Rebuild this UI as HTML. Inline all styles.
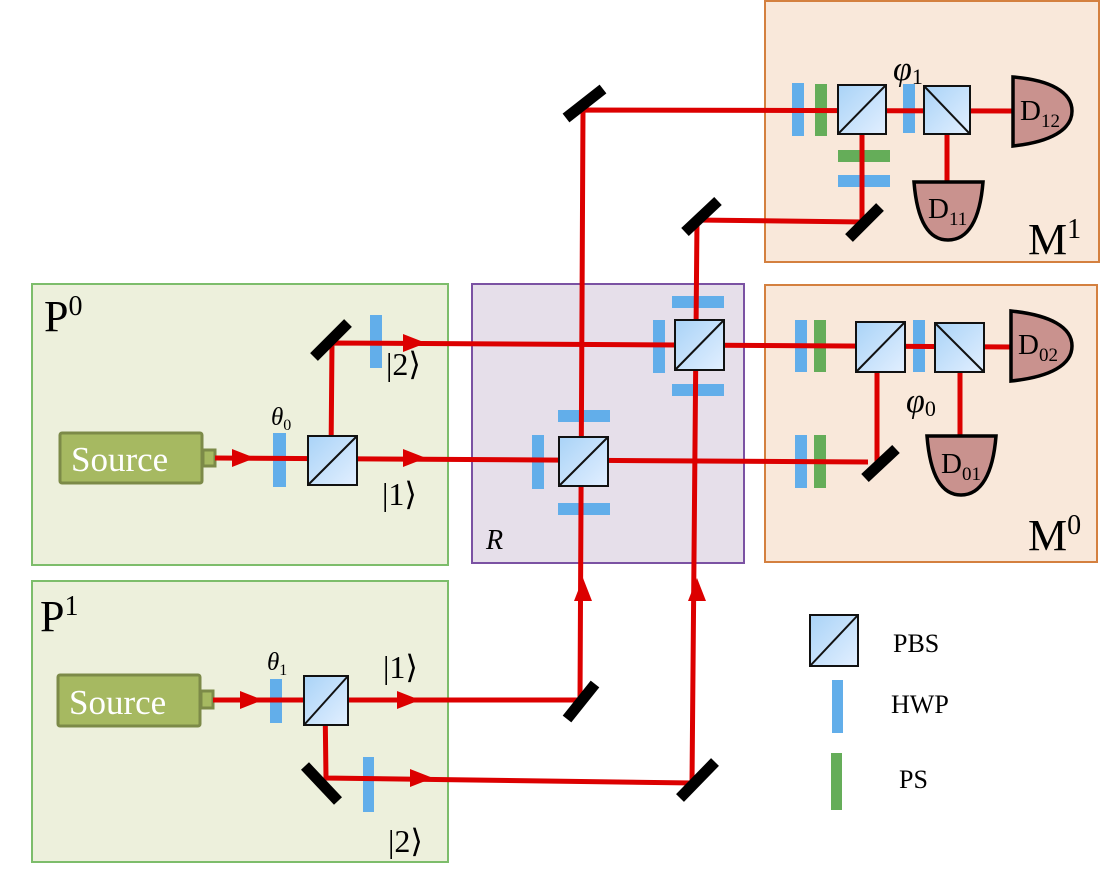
<!DOCTYPE html>
<html><head><meta charset="utf-8"><style>
html,body{margin:0;padding:0;background:#fff;}
svg{display:block;}
text{font-family:"Liberation Serif","DejaVu Serif",serif;}
</style></head><body>
<svg width="1111" height="885" viewBox="0 0 1111 885" xmlns="http://www.w3.org/2000/svg">
<defs>
<linearGradient id="pg" x1="0" y1="0" x2="1" y2="1">
<stop offset="0" stop-color="#a9d3f7"/><stop offset="1" stop-color="#e2efff"/>
</linearGradient>
</defs>
<rect x="765" y="1" width="334" height="261" fill="#f9e8da" stroke="#d4803f" stroke-width="2"/>
<rect x="765" y="285" width="332" height="277" fill="#f9e8da" stroke="#d4803f" stroke-width="2"/>
<rect x="32" y="284" width="416" height="281" fill="#edf0dc" stroke="#7dbd6b" stroke-width="2"/>
<rect x="32" y="581" width="416" height="281" fill="#edf0dc" stroke="#7dbd6b" stroke-width="2"/>
<rect x="472" y="284" width="272" height="279" fill="#e6dfea" stroke="#7b52a3" stroke-width="2"/>

<text x="44" y="331" font-size="44">P<tspan font-size="28" dy="-16">0</tspan></text>
<text x="40" y="631" font-size="44">P<tspan font-size="28" dy="-16">1</tspan></text>
<text x="1028" y="550" font-size="44">M<tspan font-size="28" dy="-16">0</tspan></text>
<text x="1028" y="254" font-size="44">M<tspan font-size="28" dy="-16">1</tspan></text>
<text x="486" y="549" font-size="28" font-style="italic">R</text>

<g fill="#62aeea">
<rect x="273" y="433" width="13" height="54"/>
<rect x="370" y="315" width="12" height="53"/>
<rect x="270" y="679" width="12" height="44"/>
<rect x="363" y="757" width="11" height="55"/>
<rect x="532" y="435" width="12" height="54"/>
<rect x="558" y="410" width="52" height="12"/>
<rect x="558" y="503" width="52" height="12"/>
<rect x="653" y="320" width="12" height="53"/>
<rect x="672" y="296" width="52" height="12"/>
<rect x="672" y="384" width="52" height="12"/>
<rect x="795" y="320" width="12" height="52"/>
<rect x="795" y="435" width="12" height="53"/>
<rect x="913" y="320" width="12" height="52"/>
<rect x="792" y="83" width="12" height="53"/>
<rect x="903" y="84" width="12" height="49"/>
<rect x="838" y="175" width="52" height="12"/>
<rect x="832" y="680" width="11" height="53"/>
</g>
<g fill="#65ad59">
<rect x="814" y="320" width="12" height="52"/>
<rect x="814" y="435" width="12" height="53"/>
<rect x="815" y="84" width="12" height="52"/>
<rect x="838" y="150" width="52" height="12"/>
<rect x="831" y="753" width="11" height="57"/>
</g>

<g fill="#a6b961" stroke="#7c8a48" stroke-width="3">
<rect x="60" y="433" width="142" height="50" rx="2"/>
<rect x="203" y="450" width="12" height="16"/>
<rect x="58" y="675" width="142" height="51" rx="2"/>
<rect x="201" y="691" width="12" height="17"/>
</g>
<text x="71" y="471" font-size="35" fill="#fff">Source</text>
<text x="69" y="714" font-size="35" fill="#fff">Source</text>

<g stroke="#dc0000" stroke-width="5" fill="none" stroke-linejoin="miter">
<polyline points="215,458 868,462"/>
<polyline points="331,458 332,343 1012,347"/>
<polyline points="877,347 877,462"/>
<polyline points="960,347 960,436"/>
<polyline points="213,700 580,700 583,110 1013,111"/>
<polyline points="325,700 326,778 692,783 697,220 862,222 862,110"/>
<polyline points="947,111 947,182"/>
</g>
<g fill="#dc0000">
<polygon points="232,449 255,458 232,467"/>
<polygon points="403,449 426,458 403,467"/>
<polygon points="403,334 426,343 403,352"/>
<polygon points="240,691 263,700 240,709"/>
<polygon points="397,691 420,700 397,709"/>
<polygon points="410,769 433,778 410,787"/>
<polygon points="574,601 583,578 592,601"/>
<polygon points="688,601 697,578 706,601"/>
</g>

<g stroke="#111" stroke-width="2" fill="url(#pg)">
<rect x="308" y="436" width="49" height="49"/>
<rect x="304" y="676" width="44" height="49"/>
<rect x="559" y="437" width="49" height="49"/>
<rect x="675" y="320" width="49" height="50"/>
<rect x="856" y="322" width="49" height="50"/>
<rect x="935" y="323" width="49" height="49"/>
<rect x="838" y="85" width="48" height="49"/>
<rect x="924" y="86" width="46" height="48"/>
<rect x="810" y="615" width="48" height="51"/>
</g>
<g stroke="#111" stroke-width="2">
<line x1="308" y1="485" x2="357" y2="436"/>
<line x1="304" y1="725" x2="348" y2="676"/>
<line x1="559" y1="486" x2="608" y2="437"/>
<line x1="675" y1="370" x2="724" y2="320"/>
<line x1="856" y1="372" x2="905" y2="322"/>
<line x1="935" y1="323" x2="984" y2="372"/>
<line x1="838" y1="134" x2="886" y2="85"/>
<line x1="924" y1="86" x2="970" y2="134"/>
<line x1="810" y1="666" x2="858" y2="615"/>
</g>

<g stroke="#000" stroke-width="11" stroke-linecap="butt">
<line x1="314" y1="357" x2="348" y2="323"/>
<line x1="566" y1="118" x2="603" y2="89"/>
<line x1="685" y1="232" x2="718" y2="201"/>
<line x1="849" y1="238" x2="880" y2="207"/>
<line x1="865" y1="478" x2="896" y2="449"/>
<line x1="567" y1="719" x2="595" y2="684"/>
<line x1="305" y1="766" x2="338" y2="801"/>
<line x1="680" y1="798" x2="715" y2="762"/>
</g>

<g fill="#c9928e" stroke="#000" stroke-width="3.5">
<path d="M1013,77 L1013,146 C1050,142 1072,130 1072,111 C1072,92 1050,80 1013,77 Z"/>
<path d="M1011,311 L1011,381 C1050,377 1072,365 1072,346 C1072,327 1050,315 1011,311 Z"/>
<path d="M914,182 L983,182 C980,220 968,240 948,240 C928,240 917,220 914,182 Z"/>
<path d="M927,436 L996,436 C993,474 981,495 961,495 C941,495 930,474 927,436 Z"/>
</g>
<text x="1020" y="120" font-size="29">D<tspan font-size="19" dy="7">12</tspan></text>
<text x="1018" y="354" font-size="29">D<tspan font-size="19" dy="7">02</tspan></text>
<text x="928" y="218" font-size="29">D<tspan font-size="19" dy="7">11</tspan></text>
<text x="941" y="473" font-size="29">D<tspan font-size="19" dy="7">01</tspan></text>

<text x="271" y="425" font-size="25" font-style="italic">θ<tspan font-size="16" dy="5" font-style="normal">0</tspan></text>
<text x="267" y="670" font-size="25" font-style="italic">θ<tspan font-size="16" dy="5" font-style="normal">1</tspan></text>
<text x="893" y="80" font-size="34" font-style="italic">φ<tspan font-size="22" dy="4" font-style="normal">1</tspan></text>
<text x="906" y="412" font-size="34" font-style="italic">φ<tspan font-size="22" dy="4" font-style="normal">0</tspan></text>

<g font-size="32">
<text x="386" y="375">|2⟩</text>
<text x="382" y="505">|1⟩</text>
<text x="383" y="678">|1⟩</text>
<text x="388" y="852">|2⟩</text>
</g>

<g font-size="26">
<text x="893" y="652">PBS</text>
<text x="891" y="713">HWP</text>
<text x="899" y="788">PS</text>
</g>
</svg>
</body></html>
